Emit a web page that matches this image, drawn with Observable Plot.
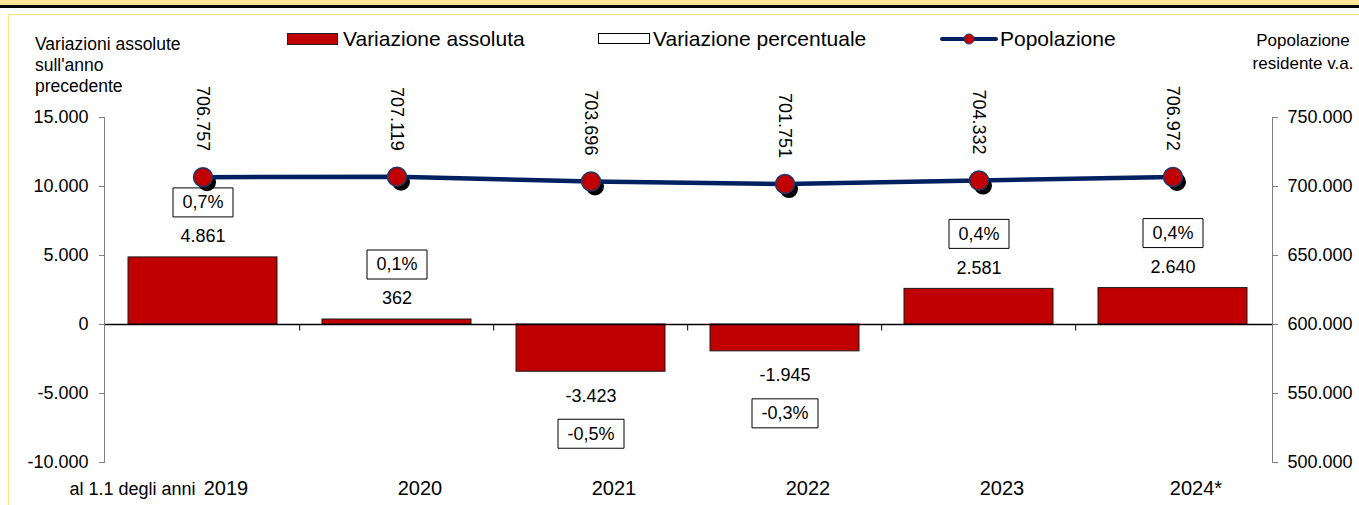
<!DOCTYPE html>
<html>
<head>
<meta charset="utf-8">
<script src="https://cdn.jsdelivr.net/npm/d3@7"></script>
<script src="https://cdn.jsdelivr.net/npm/@observablehq/plot@0.6"></script>
<style>
  html, body { margin: 0; padding: 0; background: #fff; }
  #wrap { position: relative; width: 1359px; height: 505px; overflow: hidden;
          font-family: "Liberation Sans", Arial, sans-serif; color: #000; }
  .abs { position: absolute; }
  #band { left: 0; top: 0; width: 1359px; height: 5px; background: #FFE699; }
  #black { left: 0; top: 5px; width: 1359px; height: 3px; background: #000; }
  #hline { left: 8px; top: 14px; width: 1351px; height: 1px; background: #FFE07F; }
  #vline { left: 8px; top: 14px; width: 1px; height: 491px; background: #FFE07F; }
  #ltitle { left: 35px; top: 34px; font-size: 17.5px; line-height: 21px; white-space: nowrap; }
  #rtitle { left: 1223px; width: 160px; top: 29px; font-size: 17px; line-height: 23px; text-align: center; white-space: nowrap; }
  .lg { position: absolute; top: 27px; font-size: 21px; line-height: 24px; white-space: nowrap; }
  #chart { position: absolute; left: 0; top: 0; }
</style>
</head>
<body>
<div id="wrap">
  <div class="abs" id="band"></div>
  <div class="abs" id="black"></div>
  <div class="abs" id="hline"></div>
  <div class="abs" id="vline"></div>
  <div class="abs" id="ltitle">Variazioni assolute<br>sull'anno<br>precedente</div>
  <div class="abs" id="rtitle">Popolazione<br>residente v.a.</div>
  <div class="abs" style="left:287px;top:33px;width:49px;height:10px;background:#C00000;border:1px solid #222;"></div>
  <div class="lg" style="left:343px;">Variazione assoluta</div>
  <div class="abs" style="left:598px;top:33px;width:50px;height:9px;background:#fff;border:1.5px solid #000;"></div>
  <div class="lg" style="left:653px;">Variazione percentuale</div>
  <svg class="abs" style="left:940px;top:29px;" width="60" height="20">
    <line x1="2" y1="10" x2="56" y2="10" stroke="#002060" stroke-width="4" stroke-linecap="round"/>
    <circle cx="29" cy="10" r="5" fill="#C00000" stroke="#1F3864" stroke-width="1"/>
  </svg>
  <div class="lg" style="left:1000px;">Popolazione</div>
  <div id="chart"></div>
</div>
<script>
// ---- data ----
const years = ["2019", "2020", "2021", "2022", "2023", "2024*"];
const variazioneAssoluta = [4861, 362, -3423, -1945, 2581, 2640];
const variazionePercentuale = [0.7, 0.1, -0.5, -0.3, 0.4, 0.4];
const popolazione = [706757, 707119, 703696, 701751, 704332, 706972];
const leftTicks = [-10000, -5000, 0, 5000, 10000, 15000];
const rightTicks = [500000, 550000, 600000, 650000, 700000, 750000];
const xPrefix = "al 1.1 degli anni";

// ---- helpers ----
const it = d3.formatLocale({decimal: ",", thousands: ".", grouping: [3], currency: ["€", ""], minus: "-"});
const fmtInt = it.format(",d");
const fmtPct = v => it.format(".1f")(v) + "%";
// right axis (population) mapped onto left axis units
const toLeft = p => (p - 600000) / 10;
const fromLeft = v => v * 10 + 600000;

const data = years.map((year, i) => ({
  year, abs: variazioneAssoluta[i], pct: variazionePercentuale[i],
  pop: popolazione[i], popY: toLeft(popolazione[i])
}));
const pos = data.filter(d => d.abs >= 0);
const neg = data.filter(d => d.abs < 0);

const W = 1359, H = 505, ML = 104, MR = 87, MT = 117, MB = 43;
const step = (W - ML - MR) / years.length;
const box = w => ({draw(ctx) { ctx.rect(-w / 2, -14.5, w, 29); }});
const tickSym = {draw(ctx) { ctx.moveTo(0, 0); ctx.lineTo(0, 6); }};

const chart = Plot.plot({
  width: W, height: H,
  marginLeft: ML, marginRight: MR, marginTop: MT, marginBottom: MB,
  style: {fontFamily: "'Liberation Sans', Arial, sans-serif", fontSize: "18px", color: "#000", background: "transparent", overflow: "visible"},
  x: {domain: years, paddingInner: 0.23, paddingOuter: 0.115, label: null},
  y: {domain: [-10000, 15000], label: null},
  marks: [
    Plot.barY(data, {x: "year", y: "abs", fill: "#C00000", stroke: "#1a1a1a", strokeWidth: 1}),
    Plot.ruleY([0], {stroke: "#000", strokeWidth: 1.3}),
    Plot.dot(years.slice(1), {x: d => d, y: 0, dx: -step / 2, symbol: tickSym, fill: "none", stroke: "#000", strokeWidth: 1}),
    Plot.frame({anchor: "left", stroke: "#808080"}),
    Plot.frame({anchor: "right", stroke: "#808080"}),
    Plot.axisY({ticks: leftTicks, tickFormat: fmtInt, tickSize: 5, tickPadding: 11, fontSize: 18, stroke: "#808080", fill: "#000", label: null}),
    Plot.axisY({anchor: "right", ticks: rightTicks.map(toLeft), tickFormat: v => fmtInt(fromLeft(v)), tickSize: 5, tickPadding: 10, fontSize: 18, stroke: "#808080", fill: "#000", label: null}),
    Plot.axisX({tickSize: 0, tickPadding: 18, fontSize: 20, dx: 23, fill: "#000", label: null}),
    Plot.text([xPrefix], {frameAnchor: "bottom-left", textAnchor: "end", lineAnchor: "top", dx: 91, dy: 20, fontSize: 18, fill: "#000"}),
    // value labels
    Plot.text(pos, {x: "year", y: "abs", text: d => fmtInt(d.abs), dy: -21, fontSize: 18, fill: "#000"}),
    Plot.text(neg, {x: "year", y: "abs", text: d => fmtInt(d.abs), dy: 24, fontSize: 18, fill: "#000"}),
    // percentage boxes
    Plot.dot(pos, {x: "year", y: "abs", dy: -55, symbol: box(60), fill: "#fff", stroke: "#000", strokeWidth: 1}),
    Plot.text(pos, {x: "year", y: "abs", dy: -55, text: d => fmtPct(d.pct), fontSize: 18, fill: "#000"}),
    Plot.dot(neg, {x: "year", y: "abs", dy: 62, symbol: box(66), fill: "#fff", stroke: "#000", strokeWidth: 1}),
    Plot.text(neg, {x: "year", y: "abs", dy: 62, text: d => fmtPct(d.pct), fontSize: 18, fill: "#000"}),
    // population line
    Plot.dot(data, {x: "year", y: "popY", r: 9, fill: "#000", dx: 4, dy: 5}),
    Plot.line(data, {x: "year", y: "popY", stroke: "#002060", strokeWidth: 4.5}),
    Plot.dot(data, {x: "year", y: "popY", r: 9.5, fill: "#C00000", stroke: "#1F3864", strokeWidth: 1.5}),
    Plot.text(data, {x: "year", y: "popY", text: d => fmtInt(d.pop), rotate: 90, textAnchor: "end", dy: -26, fontSize: 18, fill: "#000"})
  ]
});
document.getElementById("chart").appendChild(chart);
</script>
</body>
</html>
